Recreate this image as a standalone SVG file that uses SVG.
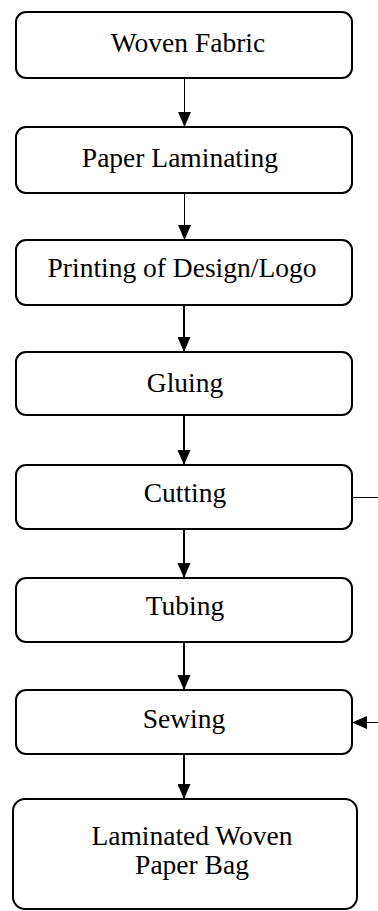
<svg xmlns="http://www.w3.org/2000/svg" width="378" height="911" viewBox="0 0 378 911">
  <style>
    .box { fill: #ffffff; stroke: #000000; stroke-width: 2; }
    .lbl { font-family: "Liberation Serif", "Times New Roman", serif; font-size: 27.5px; fill: #000000; text-anchor: middle; }
    .thin { stroke: #000000; stroke-width: 1; fill: none; }
    .thick { stroke: #000000; stroke-width: 2; fill: none; }
  </style>
  <defs>
    <marker id="ah" viewBox="0 0 15 13" refX="15" refY="6.5" markerWidth="15" markerHeight="13" markerUnits="userSpaceOnUse" orient="auto">
      <path d="M0,0 L15,6.5 L0,13 z" fill="#000000"/>
    </marker>
  </defs>
  <rect width="378" height="911" fill="#ffffff"/>

  <g id="connectors">
    <line class="thin" x1="184.5" y1="78" x2="184.5" y2="127" marker-end="url(#ah)"/>
    <line class="thin" x1="184.5" y1="193" x2="184.5" y2="240" marker-end="url(#ah)"/>
    <line class="thick" x1="184" y1="305" x2="184" y2="352" marker-end="url(#ah)"/>
    <line class="thick" x1="184" y1="415" x2="184" y2="465" marker-end="url(#ah)"/>
    <line class="thick" x1="184" y1="529" x2="184" y2="578" marker-end="url(#ah)"/>
    <line class="thick" x1="184" y1="642" x2="184" y2="690" marker-end="url(#ah)"/>
    <line class="thick" x1="184" y1="754" x2="184" y2="799" marker-end="url(#ah)"/>
    <line class="thin" x1="352" y1="497.5" x2="378" y2="497.5"/>
    <line class="thin" x1="378" y1="722.5" x2="352" y2="722.5" marker-end="url(#ah)"/>
  </g>

  <g id="n1">
    <rect class="box" x="16" y="12" width="336" height="66" rx="10"/>
    <text class="lbl" x="188" y="52">Woven Fabric</text>
  </g>
  <g id="n2">
    <rect class="box" x="16" y="127" width="336" height="66" rx="10"/>
    <text class="lbl" x="180" y="167">Paper Laminating</text>
  </g>
  <g id="n3">
    <rect class="box" x="16" y="240" width="336" height="65" rx="10"/>
    <text class="lbl" x="182" y="277">Printing of Design/Logo</text>
  </g>
  <g id="n4">
    <rect class="box" x="16" y="352" width="336" height="63" rx="10"/>
    <text class="lbl" x="185" y="392">Gluing</text>
  </g>
  <g id="n5">
    <rect class="box" x="16" y="465" width="336" height="64" rx="10"/>
    <text class="lbl" x="185" y="502">Cutting</text>
  </g>
  <g id="n6">
    <rect class="box" x="16" y="578" width="336" height="64" rx="10"/>
    <text class="lbl" x="185" y="615">Tubing</text>
  </g>
  <g id="n7">
    <rect class="box" x="16" y="690" width="336" height="64" rx="10"/>
    <text class="lbl" x="184" y="728">Sewing</text>
  </g>
  <g id="n8">
    <rect class="box" x="13" y="799" width="344" height="110" rx="12"/>
    <text class="lbl" x="192" y="845">Laminated Woven</text>
    <text class="lbl" x="192" y="874">Paper Bag</text>
  </g>
</svg>
